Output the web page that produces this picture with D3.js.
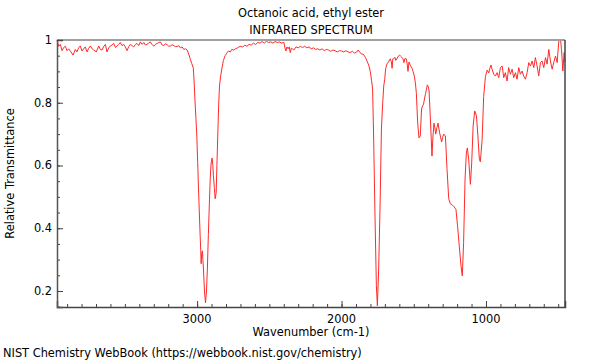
<!DOCTYPE html>
<html>
<head>
<meta charset="utf-8">
<script src="https://cdn.jsdelivr.net/npm/d3@7"></script>
<style>
  body { margin: 0; background: #fff; }
  svg { display: block; font-family: "DejaVu Sans", sans-serif; }
</style>
</head>
<body>
<svg id="chart" width="600" height="360"></svg>
<script>
const title1 = "Octanoic acid, ethyl ester";
const title2 = "INFRARED SPECTRUM";
const xLabel = "Wavenumber (cm-1)";
const yLabel = "Relative Transmittance";
const footer = "NIST Chemistry WebBook (https://webbook.nist.gov/chemistry)";

const xTickValues = [3000, 2000, 1000];
const yTickValues = [0.2, 0.4, 0.6, 0.8, 1];

const wavenumber = [
  3970, 3958, 3947, 3935, 3924, 3912, 3901, 3889, 3873, 3859, 3843, 3832, 3820, 3809, 3797, 3785, 3774, 3762, 3750, 3739,
  3727, 3716, 3698, 3681, 3670, 3658, 3646, 3635, 3624, 3612, 3601, 3589, 3577, 3565, 3554, 3543, 3532, 3520, 3508, 3497,
  3485, 3474, 3462, 3450, 3439, 3427, 3416, 3404, 3393, 3381, 3369, 3358, 3347, 3335, 3324, 3312, 3300, 3289, 3277, 3265,
  3254, 3242, 3231, 3220, 3208, 3196, 3185, 3173, 3161, 3150, 3139, 3127, 3116, 3104, 3092, 3080, 3069, 3058, 3048, 3037,
  3026, 3020, 3014, 3008, 3002, 2996, 2991, 2985, 2979, 2975, 2972, 2968, 2963, 2960, 2956, 2949, 2942, 2935, 2929, 2922,
  2915, 2909, 2903, 2896, 2891, 2887, 2881, 2875, 2868, 2863, 2857, 2851, 2845, 2837, 2829, 2818, 2806, 2795, 2783, 2770,
  2760, 2748, 2735, 2720, 2702, 2685, 2670, 2655, 2640, 2625, 2610, 2595, 2580, 2565, 2550, 2535, 2520, 2505, 2490, 2475,
  2460, 2445, 2430, 2415, 2400, 2392, 2385, 2378, 2370, 2362, 2355, 2348, 2340, 2330, 2315, 2300, 2285, 2270, 2255, 2240,
  2225, 2210, 2195, 2180, 2165, 2150, 2135, 2120, 2105, 2090, 2075, 2060, 2045, 2030, 2015, 2000, 1985, 1970, 1955, 1940,
  1925, 1910, 1895, 1885, 1875, 1862, 1850, 1835, 1824, 1812, 1801, 1792, 1785, 1778, 1768, 1759, 1752, 1743, 1733, 1724,
  1715, 1708, 1701, 1695, 1685, 1675, 1663, 1655, 1650, 1645, 1640, 1630, 1625, 1617, 1608, 1598, 1590, 1583, 1575, 1568,
  1560, 1552, 1546, 1540, 1533, 1525, 1519, 1512, 1505, 1496, 1488, 1482, 1473, 1464, 1455, 1446, 1439, 1432, 1425, 1418,
  1406, 1400, 1394, 1385, 1374, 1367, 1360, 1354, 1348, 1340, 1332, 1321, 1307, 1300, 1293, 1281, 1270, 1258, 1247, 1235,
  1224, 1208, 1197, 1185, 1173, 1164, 1155, 1145, 1136, 1129, 1120, 1108, 1099, 1089, 1078, 1066, 1057, 1046, 1039, 1027,
  1016, 1004, 992, 981, 973, 965, 958, 946, 935, 923, 912, 900, 888, 877, 866, 854, 843, 831, 819, 808,
  796, 785, 773, 762, 750, 739, 727, 715, 704, 692, 681, 669, 658, 646, 635, 623, 612, 600, 588, 577,
  565, 554, 542, 531, 519, 507, 496, 484, 477, 468, 459, 453
];

const transmittance = [
  1.000, 0.980, 0.986, 0.966, 0.976, 0.980, 0.966, 0.972, 0.962, 0.952, 0.970, 0.962, 0.975, 0.981, 0.965, 0.972, 0.978, 0.962, 0.974, 0.981,
  0.972, 0.968, 0.962, 0.981, 0.970, 0.968, 0.980, 0.986, 0.962, 0.975, 0.981, 0.984, 0.989, 0.976, 0.981, 0.986, 0.992, 0.982, 0.986, 0.978,
  0.966, 0.978, 0.986, 0.982, 0.978, 0.986, 0.989, 0.982, 0.994, 0.986, 0.992, 0.984, 0.986, 0.990, 0.994, 0.986, 0.980, 0.986, 0.989, 0.992,
  0.994, 0.984, 0.982, 0.988, 0.985, 0.980, 0.981, 0.985, 0.982, 0.979, 0.979, 0.982, 0.975, 0.978, 0.970, 0.972, 0.968, 0.955, 0.940, 0.925,
  0.910, 0.860, 0.800, 0.750, 0.694, 0.610, 0.535, 0.455, 0.376, 0.330, 0.287, 0.320, 0.328, 0.300, 0.270, 0.200, 0.162, 0.200, 0.270, 0.380,
  0.480, 0.560, 0.608, 0.624, 0.600, 0.567, 0.530, 0.494, 0.513, 0.600, 0.694, 0.790, 0.853, 0.885, 0.908, 0.935, 0.950, 0.958, 0.965, 0.962,
  0.970, 0.968, 0.972, 0.975, 0.980, 0.978, 0.983, 0.980, 0.986, 0.984, 0.990, 0.986, 0.992, 0.990, 0.995, 0.990, 0.996, 0.992, 0.994, 0.990,
  0.995, 0.992, 0.994, 0.990, 0.993, 0.975, 0.965, 0.978, 0.972, 0.978, 0.960, 0.974, 0.972, 0.968, 0.978, 0.975, 0.980, 0.976, 0.980, 0.975,
  0.978, 0.972, 0.975, 0.970, 0.972, 0.968, 0.972, 0.966, 0.970, 0.968, 0.964, 0.968, 0.966, 0.962, 0.966, 0.965, 0.962, 0.966, 0.962, 0.960,
  0.964, 0.958, 0.962, 0.968, 0.962, 0.955, 0.955, 0.945, 0.933, 0.920, 0.900, 0.870, 0.844, 0.694, 0.430, 0.217, 0.153, 0.270, 0.480, 0.716,
  0.800, 0.853, 0.875, 0.908, 0.924, 0.930, 0.940, 0.930, 0.910, 0.940, 0.940, 0.945, 0.935, 0.940, 0.948, 0.952, 0.948, 0.945, 0.940, 0.928,
  0.942, 0.940, 0.925, 0.900, 0.930, 0.920, 0.915, 0.910, 0.900, 0.885, 0.860, 0.830, 0.736, 0.688, 0.694, 0.780, 0.790, 0.796, 0.815, 0.830,
  0.857, 0.852, 0.838, 0.748, 0.630, 0.694, 0.735, 0.720, 0.700, 0.720, 0.735, 0.704, 0.675, 0.690, 0.700, 0.694, 0.590, 0.494, 0.478, 0.475,
  0.470, 0.460, 0.408, 0.344, 0.280, 0.248, 0.354, 0.557, 0.640, 0.656, 0.620, 0.540, 0.608, 0.726, 0.774, 0.758, 0.700, 0.620, 0.612, 0.680,
  0.820, 0.883, 0.904, 0.895, 0.910, 0.920, 0.907, 0.891, 0.885, 0.896, 0.880, 0.912, 0.917, 0.880, 0.896, 0.869, 0.912, 0.891, 0.907, 0.880,
  0.896, 0.875, 0.912, 0.891, 0.901, 0.885, 0.875, 0.896, 0.928, 0.917, 0.933, 0.912, 0.944, 0.917, 0.885, 0.928, 0.933, 0.912, 0.944, 0.923,
  0.970, 0.933, 0.907, 0.928, 0.949, 0.928, 0.997, 1.000, 0.970, 0.901, 0.960, 0.930
];

const svg = d3.select("#chart");
const margin = { left: 57, right: 35, top: 40, bottom: 53 };
const W = 600, H = 360;
const x0 = margin.left, x1 = W - margin.right;
const y0 = margin.top, y1 = H - margin.bottom;

const x = d3.scaleLinear().domain([3970, 453]).range([x0, x1]);
const y = d3.scaleLinear().domain([0.149, 1]).range([y1, y0]);

const data = wavenumber.map((w, i) => ({ w, t: transmittance[i] }));

// spectrum
svg.append("path")
  .datum(data)
  .attr("fill", "none")
  .attr("stroke", "#ff2a2a")
  .attr("stroke-width", 1)
  .attr("stroke-linejoin", "round")
  .attr("d", d3.line().x(d => x(d.w)).y(d => y(d.t)));

// frame
svg.append("line").attr("x1", x0).attr("x2", x1).attr("y1", y0).attr("y2", y0)
  .attr("stroke", "#a0a0a0").attr("stroke-width", 2);
svg.append("line").attr("x1", x1).attr("x2", x1).attr("y1", y0).attr("y2", y1)
  .attr("stroke", "#444").attr("stroke-width", 1.5);

// x axis (ticks inward)
const xMinor = d3.range(3900, 400, -100);
const gx = svg.append("g").attr("transform", `translate(0,${y1})`);
gx.call(d3.axisTop(x).tickValues(xMinor).tickSize(3).tickFormat(""))
  .call(g => g.select(".domain").remove());
gx.selectAll(".tick line").attr("stroke", "#444");
const gxMaj = svg.append("g").attr("transform", `translate(0,${y1})`);
gxMaj.call(d3.axisTop(x).tickValues(xTickValues).tickSize(6).tickFormat(""));
gxMaj.select(".domain").attr("stroke", "#444").attr("stroke-width", 1.5);
gxMaj.selectAll(".tick line").attr("stroke", "#444");
svg.append("g").selectAll("text").data(xTickValues).join("text")
  .attr("x", d => x(d)).attr("y", y1 + 16)
  .attr("text-anchor", "middle").attr("font-size", 11.4).attr("fill", "#000")
  .text(d => d);

// y axis (ticks inward)
const yMinor = d3.range(0.15, 1.0001, 0.05).map(v => +v.toFixed(2));
const gy = svg.append("g").attr("transform", `translate(${x0},0)`);
gy.call(d3.axisRight(y).tickValues(yMinor).tickSize(3).tickFormat(""))
  .call(g => g.select(".domain").remove());
gy.selectAll(".tick line").attr("stroke", "#444");
const gyMaj = svg.append("g").attr("transform", `translate(${x0},0)`);
gyMaj.call(d3.axisRight(y).tickValues(yTickValues).tickSize(6).tickFormat(""));
gyMaj.select(".domain").attr("stroke", "#555").attr("stroke-width", 1.5);
gyMaj.selectAll(".tick line").attr("stroke", "#444");
svg.append("g").selectAll("text").data(yTickValues).join("text")
  .attr("x", x0 - 5).attr("y", d => y(d) + 4)
  .attr("text-anchor", "end").attr("font-size", 11.4).attr("fill", "#000")
  .text(d => d3.format("~g")(d));

// titles and labels
const cx = (x0 + x1) / 2;
svg.append("text").attr("x", cx).attr("y", 17).attr("text-anchor", "middle")
  .attr("font-size", 11.4).text(title1);
svg.append("text").attr("x", cx).attr("y", 34).attr("text-anchor", "middle")
  .attr("font-size", 11.4).text(title2);
svg.append("text").attr("x", cx).attr("y", 336).attr("text-anchor", "middle")
  .attr("font-size", 11.4).text(xLabel);
svg.append("text").attr("transform", `translate(14,${(y0 + y1) / 2}) rotate(-90)`)
  .attr("text-anchor", "middle").attr("font-size", 11.4).text(yLabel);
svg.append("text").attr("x", 3).attr("y", 357).attr("font-size", 11.4).text(footer);
</script>
</body>
</html>
